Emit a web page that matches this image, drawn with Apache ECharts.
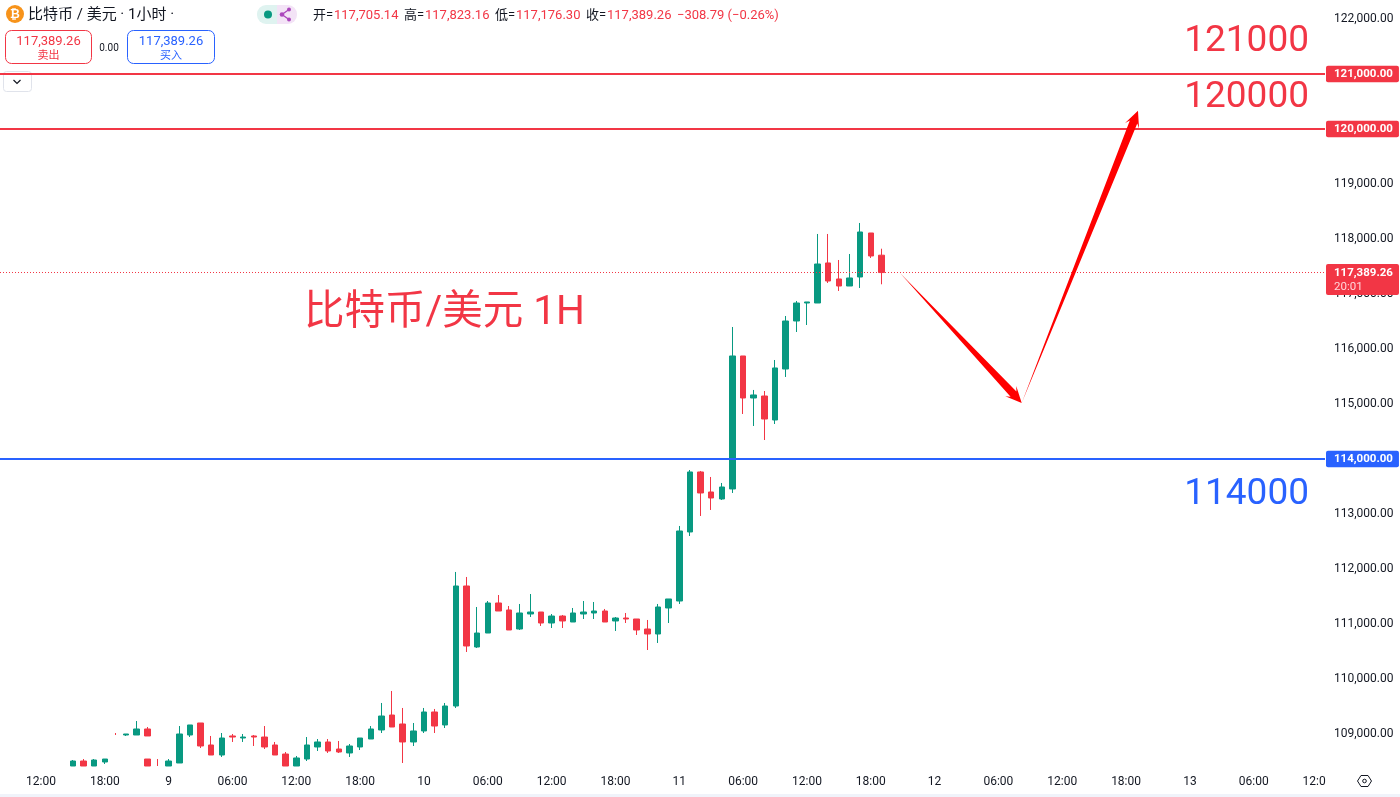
<!DOCTYPE html>
<html>
<head>
    <meta charset="utf-8">
    <script src="https://cdn.jsdelivr.net/npm/echarts@6/dist/echarts.min.js"></script>
    <style>
        html, body { margin: 0; padding: 0; background: #fff; }
    </style>
</head>

<body>
    <div id="main" style="width: 1400px;height:797px;"></div>
    <script type="text/javascript">
        // 8月8日15:00 到 8月11日19:00 的小时K线，序号为从8日0点起的小时数
        var firstHour = 15;
        var opens = [108418,108509,108418,108491,108340,108982,108982,109091,108340,108418,108473,108982,109200,108800,108618,108964,108927,108964,108945,108800,108636,108418,108545,108764,108855,108727,108655,108764,108909,109073,109345,109182,108855,109055,109400,109164,109509,111691,110582,110836,111382,111255,110909,111182,111218,111018,111145,111036,111182,111200,111236,111055,111109,111091,110909,110818,111291,111418,112673,113764,113400,113273,113455,115873,115109,115145,114709,115636,116509,116836,116836,117564,117273,117145,117309,118109,117705.14];
        var closes = [108509,108418,108527,108545,108320,109000,109091,108964,108320,108509,109000,109164,108782,108618,108927,108945,108945,108945,108764,108618,108418,108564,108800,108855,108691,108673,108782,108927,109091,109327,109127,108855,109055,109400,109145,109509,111691,110600,110836,111382,111236,110891,111200,111218,111018,111145,111055,111200,111218,111236,111036,111109,111091,110891,110818,111309,111455,112691,113764,113382,113291,113491,115873,115109,115164,114727,115655,116509,116836,116855,117545,117236,117145,117291,118127,117691,117389.26];
        var lows = [108418,108418,108418,108455,108300,108964,108982,108964,108300,108418,108473,108945,108745,108618,108582,108855,108855,108782,108727,108618,108418,108418,108509,108691,108655,108655,108582,108709,108909,109018,109127,108473,108782,109018,109018,109109,109473,110491,110564,110836,111236,110891,110891,111127,110964,110927,110927,111036,111091,111091,111036,110873,111018,110800,110527,110655,111018,111364,112600,112964,113073,113255,113382,114818,114600,114345,114636,115491,116309,116436,116836,117200,117055,117145,117109,117655,117176.30];
        var highs = [108527,108545,108545,108545,108340,109000,109236,109127,108340,108545,109145,109164,109200,108964,109018,109000,109000,108982,109145,108855,108673,108600,108945,108909,108909,108873,108818,108927,109145,109564,109782,109473,109200,109473,109455,109564,111946,111855,111309,111418,111527,111327,111364,111545,111218,111182,111164,111291,111418,111400,111273,111127,111200,111091,111073,111364,111455,112782,113800,113782,113673,113564,116400,115873,115255,115236,115800,116600,116873,116855,118091,118091,117618,117727,118291,118109,117823.16];

        // 8日22:00 下方的残留实体，19:00 和 23:00 只露出影线
        var strayBars = [[22,108545,108418,108418,108545]];
        var wickBars = [[19,109010,108990,108982,109018],[23,108545,108418,108418,108545]];

        var hourTicks = [12,18,24,30,36,42,48,54,60,66,72,78,84,90,96,102,108,114,120,126,132];
        var hourMin = 8.146;
        var hourMax = 132.7;

        var priceTicks = [109000,110000,111000,112000,113000,114000,115000,116000,117000,118000,119000,120000,121000,122000];
        var redLevels = [121000,120000];
        var blueLevels = [114000];
        var lastPrice = 117389.26;

        // 箭头：小时，价格
        var arrowDown = [[92.75,117380],[104.19,115020]];
        var arrowUp = [[104.19,115020],[115.12,120330]];

        var upColor = '#089981';
        var downColor = '#F23645';
        var blue = '#2962FF';
        var textColor = '#131722';
        var fontName = 'Roboto, "Noto Sans CJK SC", sans-serif';

        var klineData = opens.map(function (o, i) {
            return [firstHour + i, o, closes[i], lows[i], highs[i]];
        });

        function money(v) {
            return v.toLocaleString('en-US', {minimumFractionDigits: 2, maximumFractionDigits: 2});
        }

        function levelLine(value, color) {
            return {
                yAxis: value,
                lineStyle: {color: color, width: 2, type: 'solid'},
                label: {
                    show: true,
                    position: 'end',
                    distance: 1,
                    formatter: money(value),
                    color: '#fff',
                    fontFamily: fontName,
                    fontSize: 11.5,
                    fontWeight: 'bold',
                    backgroundColor: color,
                    borderRadius: 2,
                    padding: [3, 6, 2, 8]
                }
            };
        }

        // 从尾部0宽度渐变到箭头的箭形
        function arrowShape(a, b) {
            var dx = b[0] - a[0], dy = b[1] - a[1];
            var len = Math.sqrt(dx * dx + dy * dy);
            var ux = dx / len, uy = dy / len;
            var px = -uy, py = ux;
            var neck = [b[0] - ux * 12, b[1] - uy * 12];
            var back = [b[0] - ux * 16, b[1] - uy * 16];
            return [
                a,
                [neck[0] + px * 4, neck[1] + py * 4],
                [back[0] + px * 7.5, back[1] + py * 7.5],
                b,
                [back[0] - px * 7.5, back[1] - py * 7.5],
                [neck[0] - px * 4, neck[1] - py * 4]
            ];
        }

        function renderArrow(params, api) {
            var list = params.dataIndex === 0 ? arrowDown : arrowUp;
            return {
                type: 'polygon',
                shape: {points: arrowShape(api.coord(list[0]), api.coord(list[1]))},
                style: {fill: '#FF0000'}
            };
        }

        function plain(x, y, text, color, size, align, weight) {
            return {
                type: 'text',
                x: x,
                y: y,
                z: 100,
                style: {
                    text: text,
                    fill: color,
                    font: (weight || 'normal') + ' ' + size + 'px ' + fontName,
                    align: align || 'left',
                    verticalAlign: 'middle'
                }
            };
        }

        function ohlcText(x, name, value) {
            return [
                plain(x, 16, name + '=', textColor, 13),
                plain(x + 21, 16, value, downColor, 13)
            ];
        }

        var graphics = [
            // 右下角遮住被截断的时间标签
            {type: 'rect', z: 90, shape: {x: 1326, y: 768, width: 74, height: 26}, style: {fill: '#fff'}},
            {type: 'rect', z: 90, shape: {x: 0, y: 794, width: 1400, height: 3}, style: {fill: '#F0F3FA'}},
            // 图表上的文字
            plain(1309, 42, '121000', downColor, 37, 'right'),
            plain(1309, 98, '120000', downColor, 37, 'right'),
            plain(1309, 495, '114000', blue, 37, 'right'),
            plain(304, 314, '比特币/美元 1H', downColor, 40.5),
            // 最新价标签
            {type: 'rect', z: 95, shape: {x: 1326, y: 264, width: 73, height: 31, r: 2}, style: {fill: downColor}},
            plain(1334, 273, money(lastPrice), '#fff', 11.5, 'left', 'bold'),
            plain(1334, 287, '20:01', '#FFD5D9', 11.5),
            // 标题栏
            {type: 'circle', z: 100, shape: {cx: 15, cy: 14, r: 9}, style: {fill: '#F7931A'}},
            plain(15, 14.5, '₿', '#fff', 12, 'center', 'bold'),
            plain(28, 15, '比特币 / 美元 · 1小时 ·', textColor, 15),
            {type: 'rect', z: 100, shape: {x: 257, y: 5, width: 20, height: 19, r: [9, 0, 0, 9]}, style: {fill: '#DFF3F0'}},
            {type: 'rect', z: 100, shape: {x: 277, y: 5, width: 20, height: 19, r: [0, 9, 9, 0]}, style: {fill: '#F3E3F6'}},
            {type: 'circle', z: 101, shape: {cx: 268, cy: 14.5, r: 4}, style: {fill: upColor}},
            {type: 'polyline', z: 101, shape: {points: [[289, 9.5], [282, 14.5], [289, 19.5]]}, style: {stroke: '#AB47BC', lineWidth: 1.3, fill: null}},
            {type: 'circle', z: 101, shape: {cx: 289, cy: 9.5, r: 2}, style: {fill: '#AB47BC'}},
            {type: 'circle', z: 101, shape: {cx: 282, cy: 14.5, r: 2.3}, style: {fill: '#AB47BC'}},
            {type: 'circle', z: 101, shape: {cx: 289, cy: 19.5, r: 2}, style: {fill: '#AB47BC'}}
        ]
        .concat(ohlcText(313, '开', '117,705.14'))
        .concat(ohlcText(404, '高', '117,823.16'))
        .concat(ohlcText(495, '低', '117,176.30'))
        .concat(ohlcText(586, '收', '117,389.26'))
        .concat([
            plain(677, 16, '−308.79 (−0.26%)', downColor, 13),
            // 买卖按钮
            {type: 'rect', z: 100, shape: {x: 5.5, y: 30.5, width: 86, height: 33, r: 6}, style: {fill: '#fff', stroke: downColor, lineWidth: 1}},
            plain(48.5, 42, '117,389.26', downColor, 13, 'center'),
            plain(48.5, 56, '卖出', downColor, 11, 'center'),
            plain(109, 48, '0.00', textColor, 10, 'center'),
            {type: 'rect', z: 100, shape: {x: 127.5, y: 30.5, width: 87, height: 33, r: 6}, style: {fill: '#fff', stroke: blue, lineWidth: 1}},
            plain(171, 42, '117,389.26', blue, 13, 'center'),
            plain(171, 56, '买入', blue, 11, 'center'),
            // 折叠按钮
            {type: 'rect', z: 1, shape: {x: 3.5, y: 71.5, width: 28, height: 20, r: 3}, style: {fill: null, stroke: '#E0E3EB', lineWidth: 1}},
            {type: 'polyline', z: 100, shape: {points: [[13.5, 80], [17, 83.5], [20.5, 80]]}, style: {stroke: textColor, lineWidth: 1.2, fill: null}},
            // 设置图标
            {type: 'polygon', z: 100, shape: {points: [[1357.5, 781], [1361, 775.5], [1368, 775.5], [1371.5, 781], [1368, 786.5], [1361, 786.5]]}, style: {fill: null, stroke: textColor, lineWidth: 1}},
            {type: 'circle', z: 100, shape: {cx: 1364.5, cy: 781, r: 1.8}, style: {fill: null, stroke: textColor, lineWidth: 1}}
        ]);

        var candleStyle = {
            color: upColor,
            color0: downColor,
            borderColor: upColor,
            borderColor0: downColor,
            borderWidth: 1
        };

        var option = {
            backgroundColor: '#fff',
            animation: false,
            grid: {
                left: 0,
                top: 0,
                width: 1325,
                height: 767,
                containLabel: false
            },
            xAxis: {
                type: 'value',
                min: hourMin,
                max: hourMax,
                axisLine: {show: false},
                axisTick: {show: false},
                splitLine: {show: false},
                axisLabel: {
                    customValues: hourTicks,
                    margin: 9,
                    color: textColor,
                    fontFamily: fontName,
                    fontSize: 12,
                    formatter: function (value) {
                        var clock = value % 24;
                        if (clock === 0) {
                            return String(8 + value / 24);
                        }
                        return (clock < 10 ? '0' : '') + clock + ':00';
                    }
                }
            },
            yAxis: {
                type: 'value',
                position: 'right',
                min: 108400,
                max: 122345,
                axisLine: {show: false},
                axisTick: {show: false},
                splitLine: {show: false},
                axisLabel: {
                    customValues: priceTicks,
                    margin: 9,
                    color: textColor,
                    fontFamily: fontName,
                    fontSize: 12,
                    formatter: function (value) {
                        return money(value);
                    }
                }
            },
            graphic: graphics,
            series: [
                {
                    name: 'levels',
                    type: 'line',
                    data: [],
                    z: 1,
                    markLine: {
                        silent: true,
                        symbol: 'none',
                        animation: false,
                        data: redLevels.map(function (v) {
                            return levelLine(v, downColor);
                        }).concat(blueLevels.map(function (v) {
                            return levelLine(v, blue);
                        }))
                    }
                },
                {
                    name: 'kline',
                    type: 'candlestick',
                    z: 3,
                    barWidth: 6,
                    clip: true,
                    itemStyle: candleStyle,
                    data: klineData
                },
                {
                    name: 'stray',
                    type: 'candlestick',
                    z: 3,
                    barWidth: 6,
                    clip: true,
                    itemStyle: candleStyle,
                    data: strayBars
                },
                {
                    name: 'wick',
                    type: 'candlestick',
                    z: 3,
                    barWidth: 1,
                    clip: true,
                    itemStyle: candleStyle,
                    data: wickBars
                },
                {
                    name: 'last',
                    type: 'line',
                    data: [],
                    z: 4,
                    markLine: {
                        silent: true,
                        symbol: 'none',
                        animation: false,
                        label: {show: false},
                        lineStyle: {color: downColor, width: 1, type: [1, 2]},
                        data: [{yAxis: lastPrice}]
                    }
                },
                {
                    name: 'arrows',
                    type: 'custom',
                    z: 5,
                    clip: false,
                    renderItem: renderArrow,
                    data: [0, 1]
                }
            ]
        };

        var myChart = echarts.init(document.getElementById('main'));
        myChart.setOption(option);
    </script>
</body>

</html>
